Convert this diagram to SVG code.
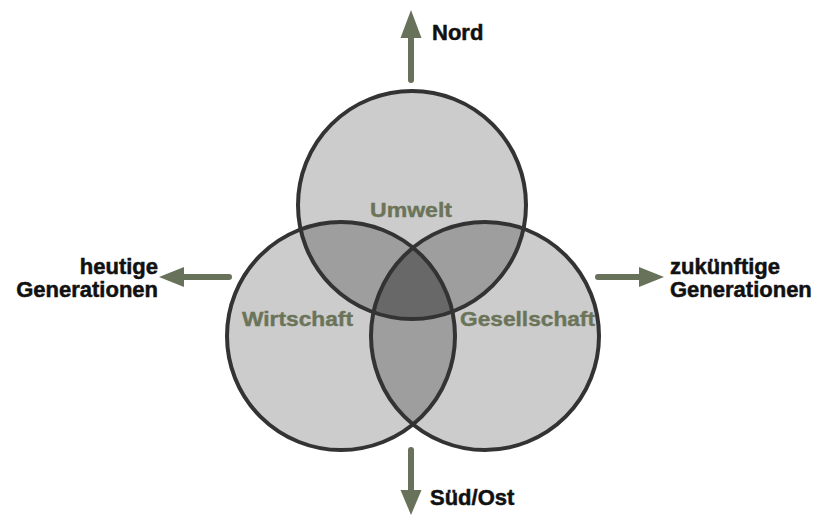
<svg xmlns="http://www.w3.org/2000/svg" width="820" height="515" viewBox="0 0 820 515">
<style>
.fill{fill:#cccccc}
.pair{fill:#9e9e9e}
.tri{fill:#686868}
.ring{fill:none;stroke:#333333;stroke-width:4}
.clabel{font-family:"Liberation Sans",Arial,sans-serif;font-weight:bold;font-size:21px;fill:#6b7459;stroke:#6b7459;stroke-width:0.4;text-anchor:middle}
.olabel{font-family:"Liberation Sans",Arial,sans-serif;font-weight:bold;font-size:22px;fill:#111111;stroke:#111111;stroke-width:0.5}
.shaft{stroke:#68725a;stroke-width:6;stroke-linecap:round;fill:none}
.head{fill:#68725a}
</style>
<defs>
<clipPath id="cU"><circle cx="412" cy="205" r="114"/></clipPath>
<clipPath id="cW"><circle cx="341" cy="336" r="114"/></clipPath>
<clipPath id="cG"><circle cx="485" cy="336" r="114"/></clipPath>
</defs>
<rect width="820" height="515" fill="#ffffff"/>
<g id="fills">
<circle class="fill" cx="412" cy="205" r="114"/>
<circle class="fill" cx="341" cy="336" r="114"/>
<circle class="fill" cx="485" cy="336" r="114"/>
<circle class="pair" cx="341" cy="336" r="114" clip-path="url(#cU)"/>
<circle class="pair" cx="485" cy="336" r="114" clip-path="url(#cU)"/>
<circle class="pair" cx="485" cy="336" r="114" clip-path="url(#cW)"/>
<g clip-path="url(#cG)"><circle class="tri" cx="341" cy="336" r="114" clip-path="url(#cU)"/></g>
</g>
<g id="umwelt">
<circle class="ring" cx="412" cy="205" r="114"/>
<text class="clabel" x="411" y="217" textLength="82" lengthAdjust="spacingAndGlyphs">Umwelt</text>
</g>
<g id="wirtschaft">
<circle class="ring" cx="341" cy="336" r="114"/>
<text class="clabel" x="297.5" y="326" textLength="111" lengthAdjust="spacingAndGlyphs">Wirtschaft</text>
</g>
<g id="gesellschaft">
<circle class="ring" cx="485" cy="336" r="114"/>
<text class="clabel" x="527.5" y="326" textLength="135" lengthAdjust="spacingAndGlyphs">Gesellschaft</text>
</g>
<g id="connectors">
<line class="shaft" x1="411" y1="80" x2="411" y2="36"/>
<polygon class="head" points="411,10 421.5,38 400.5,38"/>
<line class="shaft" x1="411" y1="450" x2="411" y2="492"/>
<polygon class="head" points="411,515 421.5,490 400.5,490"/>
<line class="shaft" x1="229" y1="277" x2="182" y2="277"/>
<polygon class="head" points="159,277 184,267 184,287"/>
<line class="shaft" x1="598" y1="277" x2="641" y2="277"/>
<polygon class="head" points="664,277 639,267 639,287"/>
</g>
<g id="nord"><text class="olabel" x="432" y="40">Nord</text></g>
<g id="sued-ost"><text class="olabel" x="430" y="505">Süd/Ost</text></g>
<g id="heutige">
<text class="olabel" x="158" y="274" text-anchor="end">heutige</text>
<text class="olabel" x="158" y="297" text-anchor="end">Generationen</text>
</g>
<g id="zukuenftige">
<text class="olabel" x="670" y="274">zukünftige</text>
<text class="olabel" x="670" y="297">Generationen</text>
</g>
</svg>
